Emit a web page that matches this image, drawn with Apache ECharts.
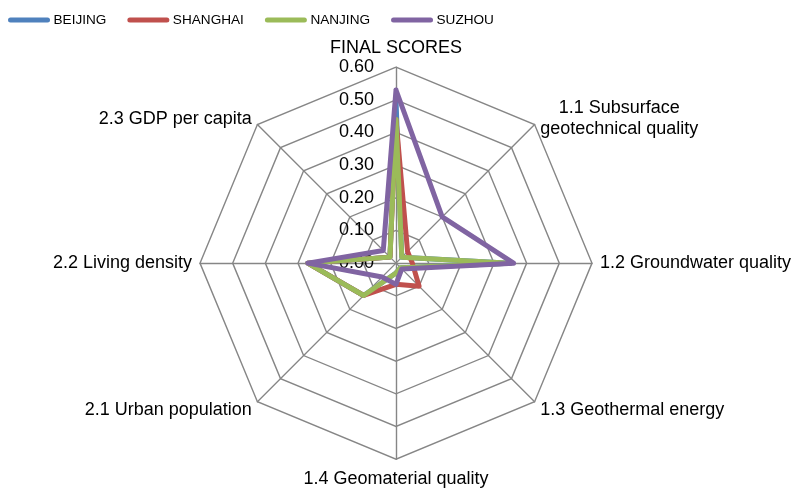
<!DOCTYPE html>
<html>
<head>
<meta charset="utf-8">
<script src="https://cdn.jsdelivr.net/npm/echarts@6/dist/echarts.min.js"></script>
<style>html,body{margin:0;padding:0;background:#fff;}#c{width:800px;height:490px;}</style>
</head>
<body>
<div id="c"></div>
<script>
// Indicators in the reference's clockwise order (starting at top)
var indicators = ['FINAL SCORES', '1.1 Subsurface\ngeotechnical quality', '1.2 Groundwater quality',
  '1.3 Geothermal energy', '1.4 Geomaterial quality', '2.1 Urban population',
  '2.2 Living density', '2.3 GDP per capita'];
var cities = ['BEIJING', 'SHANGHAI', 'NANJING', 'SUZHOU'];
var beijing  = [0.50, 0.025, 0.35, 0.02, 0.03, 0.14, 0.27, 0.026];
var shanghai = [0.44, 0.05, 0.05, 0.10, 0.065, 0.14, 0.27, 0.026];
var nanjing  = [0.44, 0.025, 0.35, 0.02, 0.03, 0.14, 0.27, 0.026];
var suzhou   = [0.53, 0.20, 0.36, 0.025, 0.065, 0.06, 0.27, 0.055];
var tickLabels = ['0.00', '0.10', '0.20', '0.30', '0.40', '0.50', '0.60'];
var colors = ['#4F81BD', '#C0504D', '#9BBB59', '#8064A2'];
var maxVal = 0.6;

// ECharts lays radar indicators counter-clockwise; reorder to clockwise
function cw(arr) { return [arr[0]].concat(arr.slice(1).reverse()); }

var font = "'Liberation Sans', Arial, sans-serif";
var indOrder = cw(indicators);
var indicatorOpts = indOrder.map(function (n, i) {
  var o = { name: n, min: 0, max: maxVal };
  if (i === 0) { o.axisLabel = { show: true }; o.nameGap = 9; }
  return o;
});
// label style per indicator (small vertical nudges)
var styleOf = {
  '1.3 Geothermal energy': 'd',
  '2.1 Urban population': 'd',
  '1.4 Geomaterial quality': 'b'
};

var chart = echarts.init(document.getElementById('c'), null, { renderer: 'canvas' });
var seriesData = [beijing, shanghai, nanjing, suzhou];
chart.setOption({
  animation: false,
  color: colors,
  legend: {
    left: 3, top: 8,
    itemWidth: 45, itemHeight: 5, itemGap: 21,
    icon: 'path://M2.5,0H39.5A2.5,2.5,0,0,1,39.5,5H2.5A2.5,2.5,0,0,1,2.5,0Z',
    textStyle: { fontFamily: font, fontSize: 13.6, color: '#000', padding: [0, 0, 0, -3] },
    data: cities
  },
  radar: {
    center: ['49.5%', '53.7%'],
    radius: 196,
    startAngle: 90,
    shape: 'polygon',
    splitNumber: 6,
    nameGap: 8,
    axisName: {
      color: '#000', fontSize: 18, fontFamily: font,
      formatter: function (v) {
        var st = styleOf[v] || 'c';
        return v.split('\n').map(function (s) { return '{' + st + '|' + s + '}'; }).join('\n');
      },
      rich: {
        c: { align: 'center', fontSize: 18, fontFamily: font, color: '#000', lineHeight: 21 },
        d: { align: 'center', fontSize: 18, fontFamily: font, color: '#000', lineHeight: 21, padding: [6, 0, 0, 0] },
        b: { align: 'center', fontSize: 18, fontFamily: font, color: '#000', lineHeight: 21, padding: [2, 0, 0, 0] }
      }
    },
    axisLabel: {
      show: false, fontSize: 18, fontFamily: font, color: '#000', margin: 22,
      showMinLabel: true, showMaxLabel: true,
      formatter: function (v) { return tickLabels[Math.round(v / 0.1)] || ''; }
    },
    axisTick: { show: false },
    axisLine: { lineStyle: { color: '#868686', width: 1.4 } },
    splitLine: { lineStyle: { color: '#868686', width: 1.4 } },
    splitArea: { show: false },
    indicator: indicatorOpts
  },
  series: cities.map(function (c, i) {
    return {
      type: 'radar', name: c, symbol: 'none',
      lineStyle: { width: 5, color: colors[i], cap: 'round', join: 'round' },
      itemStyle: { color: colors[i] },
      data: [{ name: c, value: cw(seriesData[i]) }]
    };
  })
});
</script>
</body>
</html>
